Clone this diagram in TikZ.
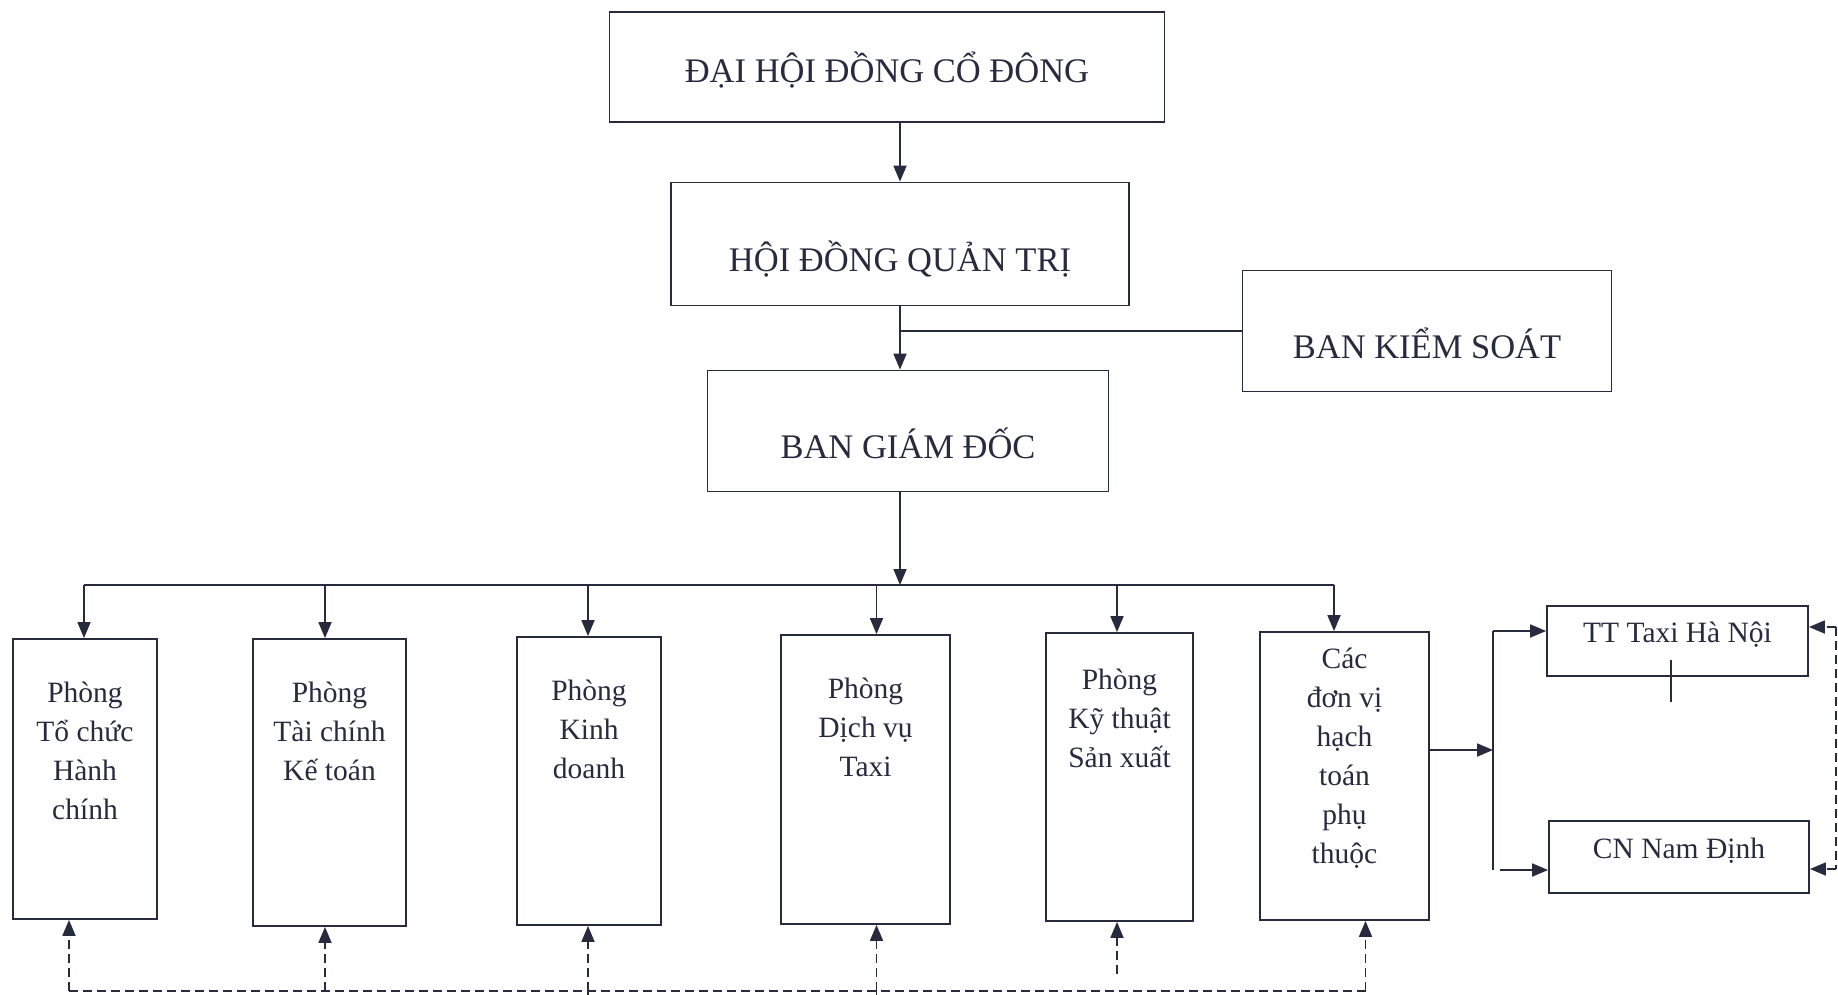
\documentclass[tikz,border=0pt]{standalone}
\usepackage{fontspec}
\setmainfont{Liberation Serif}
\usepackage{xcolor}
\usepackage{tikz}
\usetikzlibrary{arrows.meta}

\definecolor{ink}{RGB}{40,42,62}
\newcommand{\phongtext}[4]{\parbox[c][#2][t]{#1}{\centering\rule{0pt}{#3}#4}}

\begin{document}
\begin{tikzpicture}[x=1pt, y=-1pt,
  lk/.style={draw=ink, line width=1.8pt},
  arr/.style={lk, -{Triangle[length=16pt,width=13pt]}},
  dsh/.style={lk, dash pattern=on 9pt off 5pt},
  darr/.style={dsh, -{Triangle[length=16pt,width=13pt]}},
  hop/.style={draw=ink, line width=1.8pt, text=ink, font=\fontsize{34.5}{40}\selectfont, inner sep=0pt, text depth=0pt, text height=55pt},
  phong/.style={draw=ink, line width=1.8pt, text=ink, font=\fontsize{29.5}{39}\selectfont, inner sep=0pt},
  nho/.style={draw=ink, line width=1.8pt, text=ink, font=\fontsize{29.5}{34}\selectfont, inner sep=0pt, text height=10pt, text depth=8pt}]
\useasboundingbox (0,0) rectangle (1838,995);

\node[hop, minimum width=555pt, minimum height=110pt, text height=32pt] (dhdcd) at (887,67) {ĐẠI HỘI ĐỒNG CỔ ĐÔNG};
\node[hop, minimum width=458pt, minimum height=123pt] (hdqt) at (900,244) {HỘI ĐỒNG QUẢN TRỊ};
\node[hop, minimum width=369pt, minimum height=121pt] (bks) at (1427,331) {BAN KIỂM SOÁT};
\node[hop, minimum width=401pt, minimum height=121pt] (bgd) at (908,431) {BAN GIÁM ĐỐC};

\node[phong] (tchc) at (85,779) {\phongtext{144pt}{280pt}{63pt}{Phòng\\Tổ chức\\Hành\\chính}};
\node[phong] (tckt) at (329.5,782.5) {\phongtext{153pt}{287pt}{63pt}{Phòng\\Tài chính\\Kế toán}};
\node[phong] (kd) at (589,781) {\phongtext{144pt}{288pt}{63pt}{Phòng\\Kinh\\doanh}};
\node[phong] (dvtx) at (865.5,779.5) {\phongtext{169pt}{289pt}{63pt}{Phòng\\Dịch vụ\\Taxi}};
\node[phong] (ktsx) at (1119.5,777) {\phongtext{147pt}{288pt}{56pt}{Phòng\\Kỹ thuật\\Sản xuất}};
\node[phong] (dvpt) at (1344.5,776) {\phongtext{169pt}{288pt}{36pt}{Các\\đơn vị\\hạch\\toán\\phụ\\thuộc}};

\node[nho, minimum width=261pt, minimum height=70pt] (tt) at (1677.5,641) {TT Taxi Hà Nội};
\node[nho, minimum width=260pt, minimum height=72pt] (cn) at (1679,857) {CN Nam Định};

\draw[arr] (dhdcd.south -| hdqt.north) -- (hdqt.north);
\draw[arr] (hdqt.south) -- (hdqt.south |- bgd.north);
\draw[lk] (bks.west) -- (bks.west -| hdqt.south);

\coordinate (bus) at (900,585);
\draw[arr] (bgd.south -| bus) -- (bus);

\coordinate (t1) at ([xshift=-1pt]tchc.north);
\coordinate (t2) at ([xshift=-4.5pt]tckt.north);
\coordinate (t3) at ([xshift=-1pt]kd.north);
\coordinate (t4) at ([xshift=11pt]dvtx.north);
\coordinate (t5) at ([xshift=-2.5pt]ktsx.north);
\coordinate (t6) at ([xshift=-10.5pt]dvpt.north);
\draw[lk] (t1 |- bus) -- (t6 |- bus);
\draw[arr] (t1 |- bus) -- (t1);
\draw[arr] (t2 |- bus) -- (t2);
\draw[arr] (t3 |- bus) -- (t3);
\draw[arr] (t4 |- bus) -- (t4);
\draw[arr] (t5 |- bus) -- (t5);
\draw[arr] (t6 |- bus) -- (t6);

\coordinate (dl) at (0,991);
\coordinate (b1) at ([xshift=-16pt]tchc.south);
\coordinate (b2) at ([xshift=-4.5pt]tckt.south);
\coordinate (b3) at ([xshift=-1pt]kd.south);
\coordinate (b4) at ([xshift=11pt]dvtx.south);
\coordinate (b5) at ([xshift=-2.5pt]ktsx.south);
\coordinate (b6) at ([xshift=21pt]dvpt.south);
\draw[dsh] (b1 |- dl) -- (b6 |- dl);
\draw[darr] (b1 |- dl) -- (b1);
\draw[darr] (b2 |- dl) -- (b2);
\draw[darr] (b3 |- dl) -- (b3);
\draw[darr] (b4 |- dl) -- (b4);
\draw[darr] (b5 |- 0,974) -- (b5);
\draw[darr] (b6 |- dl) -- (b6);
\draw[dsh] (b3 |- dl) -- ++(0,10);
\draw[dsh] (b4 |- dl) -- ++(0,10);

\coordinate (brk) at (1493,750);
\coordinate (brt) at (1493,631);
\coordinate (brb) at (1493,870);
\coordinate (brc) at (1500,870);
\draw[arr] (dvpt.east |- brk) -- (brk);
\draw[lk] (brt) -- (brb);
\draw[arr] (brt) -- (brt -| tt.west);
\draw[arr] (brc) -- (brc -| cn.west);
\draw[lk] ([xshift=-6.5pt,yshift=17pt]tt.south) -- ([xshift=-6.5pt,yshift=-25pt]tt.south);

\coordinate (rt) at (1836,627);
\coordinate (rb) at (1836,869);
\draw[dsh] (rt) -- (rb);
\draw[darr] (rt) -- (rt -| tt.east);
\draw[darr] (rb) -- (rb -| cn.east);
\end{tikzpicture}
\end{document}
